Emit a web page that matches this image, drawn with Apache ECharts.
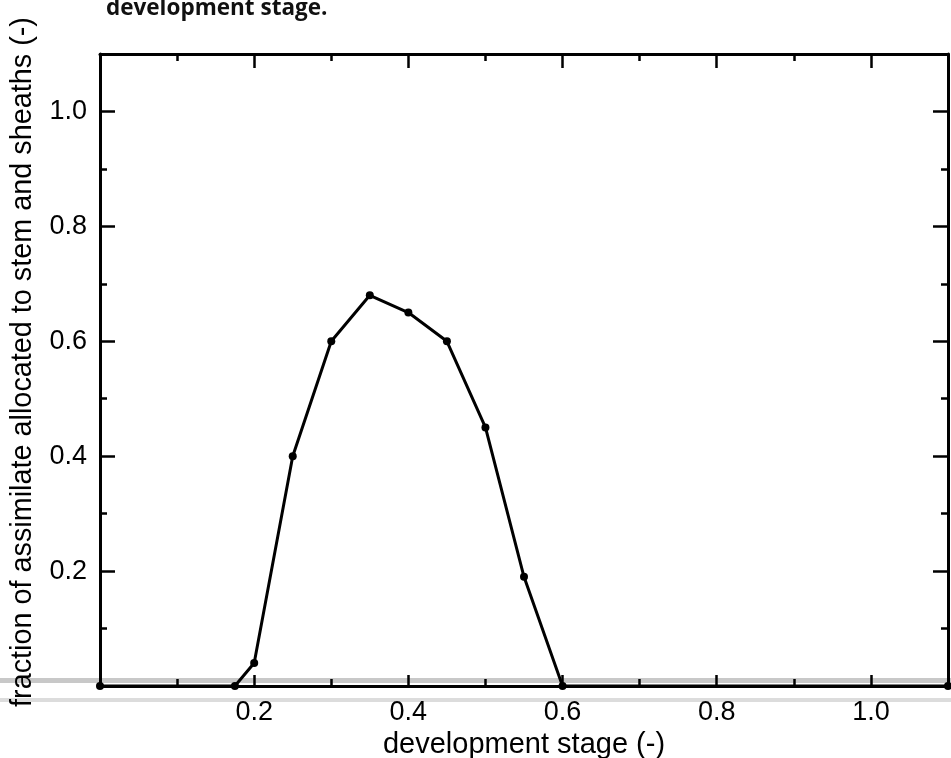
<!DOCTYPE html>
<html>
<head>
<meta charset="utf-8">
<script src="https://cdn.jsdelivr.net/npm/echarts@6/dist/echarts.min.js"></script>
<style>
  html, body { margin: 0; padding: 0; background: #fff; }
  #chart { width: 951px; height: 758px; }
</style>
</head>
<body>
<div id="chart"></div>
<script>
// development stage (-)
const devStage = [0, 0.175, 0.2, 0.25, 0.3, 0.35, 0.4, 0.45, 0.5, 0.55, 0.6, 1.1];
// fraction of assimilate allocated to stem and sheaths (-)
const stemFraction = [0, 0, 0.04, 0.4, 0.6, 0.68, 0.65, 0.6, 0.45, 0.19, 0, 0];

const captionText = 'development stage.';
const xAxisName = 'development stage (-)';
const yAxisName = 'fraction of assimilate allocated to stem and sheaths (-)';
const axisMin = 0;
const axisMax = 1.1;
const majorStep = 0.2;

const seriesData = devStage.map((x, i) => [x, stemFraction[i]]);

function tickLabel(v) {
  const r = Math.round(v * 10);
  if (r <= 0 || r % 2 !== 0 || r > 10) return '';
  return (r / 10).toFixed(1);
}

const chart = echarts.init(document.getElementById('chart'), null, { renderer: 'canvas' });

const fontFam = '"Liberation Sans", Arial, sans-serif';
const labelFont = { fontFamily: fontFam, fontSize: 27, color: '#000' };
const axisLineStyle = { color: '#000', width: 3 };

function tickCfg(len) {
  return { show: true, inside: true, length: len, lineStyle: { color: '#000', width: 2.5 } };
}
function minorCfg(len) {
  return { show: true, splitNumber: 2, length: len, lineStyle: { color: '#000', width: 2.5 } };
}

chart.setOption({
  animation: false,
  backgroundColor: '#fff',
  grid: { left: 100, right: 3, top: 54, bottom: 72, containLabel: false, outerBoundsMode: 'none' },
  graphic: [
    {
      type: 'text', left: 106, top: -3, silent: true,
      style: { text: captionText, font: 'bold 22.5px "Open Sans", sans-serif', fill: '#111' }
    },
    { type: 'rect', left: 0, top: 678, silent: true, z: -1,
      shape: { width: 951, height: 5 }, style: { fill: '#c8c8c8' } },
    { type: 'rect', left: 0, top: 698, silent: true, z: -1,
      shape: { width: 951, height: 4 }, style: { fill: '#dcdcdc' } }
  ],
  xAxis: [
    {
      type: 'value', position: 'bottom', min: axisMin, max: axisMax, interval: majorStep,
      name: xAxisName, nameLocation: 'middle', nameGap: 44,
      nameTextStyle: { fontFamily: fontFam, fontSize: 29, color: '#000' },
      axisLine: { show: true, onZero: false, lineStyle: axisLineStyle },
      axisTick: tickCfg(11),
      minorTick: minorCfg(7),
      axisLabel: Object.assign({ margin: 13, formatter: tickLabel, showMaxLabel: false }, labelFont),
      splitLine: { show: false }
    },
    {
      type: 'value', position: 'top', min: axisMin, max: axisMax, interval: majorStep,
      axisLine: { show: true, onZero: false, lineStyle: axisLineStyle },
      axisTick: tickCfg(14),
      minorTick: minorCfg(7),
      axisLabel: { show: false },
      splitLine: { show: false }
    }
  ],
  yAxis: [
    {
      type: 'value', position: 'left', min: axisMin, max: axisMax, interval: majorStep,
      name: yAxisName, nameLocation: 'middle', nameGap: 62, nameRotate: 90,
      nameTextStyle: { fontFamily: fontFam, fontSize: 28.8, color: '#000', padding: [0, 0, 0, 16] },
      axisLine: { show: true, onZero: false, lineStyle: axisLineStyle },
      axisTick: tickCfg(15),
      minorTick: minorCfg(7),
      axisLabel: Object.assign({ margin: 13, formatter: tickLabel, showMaxLabel: false }, labelFont),
      splitLine: { show: false }
    },
    {
      type: 'value', position: 'right', min: axisMin, max: axisMax, interval: majorStep,
      axisLine: { show: true, onZero: false, lineStyle: axisLineStyle },
      axisTick: tickCfg(15),
      minorTick: minorCfg(7),
      axisLabel: { show: false },
      splitLine: { show: false }
    }
  ],
  series: [
    {
      type: 'line',
      data: seriesData,
      xAxisIndex: 0, yAxisIndex: 0,
      symbol: 'circle', symbolSize: 8,
      showSymbol: true,
      clip: false,
      lineStyle: { color: '#000', width: 3 },
      itemStyle: { color: '#000' },
      z: 5
    }
  ]
});
</script>
</body>
</html>
